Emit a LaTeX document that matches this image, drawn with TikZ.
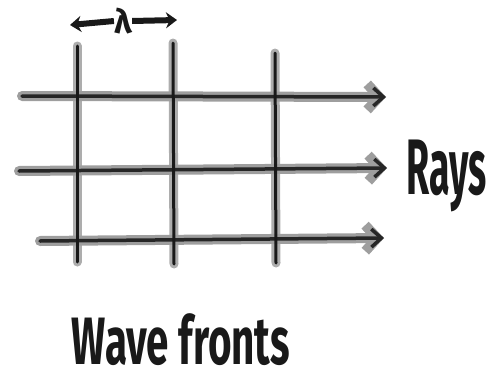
\documentclass[tikz,border=0pt]{standalone}
\usepackage{fontspec}
\setmainfont{Fira Sans}
\usetikzlibrary{arrows.meta}
\tikzset{
  rayhalo/.style={draw=black!38, line width=10pt, line cap=round,
    -{Straight Barb[length=12pt,width=26pt]}},
  raycore/.style={draw=black!85, line width=3.5pt, line cap=round,
    -{Straight Barb[length=10pt,width=18pt]}},
  wfhalo/.style={draw=black!32, line width=9pt, line cap=round},
  wfcore/.style={draw=black!90, line width=3pt, line cap=round},
  txt/.style={inner sep=0pt, text=black!90, font=\bfseries},
  lamarrow/.style={draw=black!90, line width=6pt, -{Stealth[length=11pt,width=16pt]}}
}
\begin{document}
\begin{tikzpicture}[x=1pt,y=-1pt]
\useasboundingbox (0,0) rectangle (501,386);
% wave fronts
\coordinate (f1t) at (77,46);   \coordinate (f1b) at (77,262);
\coordinate (f2t) at (173,43);  \coordinate (f2b) at (174,264);
\coordinate (f3t) at (275,53);  \coordinate (f3b) at (276,263);
\draw[wfhalo] (f1t) -- (f1b);
\draw[wfhalo] (f2t) -- (f2b);
\draw[wfhalo] (f3t) -- (f3b);
% rays
\coordinate (r1s) at (22,96);  \coordinate (r1e) at (386,97);
\coordinate (r2s) at (19,171); \coordinate (r2e) at (387,168);
\coordinate (r3s) at (40,241); \coordinate (r3e) at (384,238);
\draw[rayhalo] (r1s) -- (r1e);
\draw[rayhalo] (r2s) -- (r2e);
\draw[rayhalo] (r3s) -- (r3e);
\draw[raycore] (r1s) -- (r1e);
\draw[raycore] (r2s) -- (r2e);
\draw[raycore] (r3s) -- (r3e);
\draw[wfcore] (f1t) -- (f1b);
\draw[wfcore] (f2t) -- (f2b);
\draw[wfcore] (f3t) -- (f3b);
% lambda
\node[txt] (lam) at (123,21) {\resizebox*{!}{26pt}{λ}};
\coordinate (lamL) at (70,25);
\coordinate (lamR) at (177,20);
\draw[lamarrow] (lam.west) -- (lamL);
\draw[lamarrow] (lam.east) -- (lamR);
% labels
\node[txt] (rays) at (447,176) {\resizebox*{80pt}{72pt}{Rays}};
\node[txt] (wf) at (181,340) {\resizebox*{218pt}{52pt}{Wave fronts}};
\end{tikzpicture}
\end{document}
